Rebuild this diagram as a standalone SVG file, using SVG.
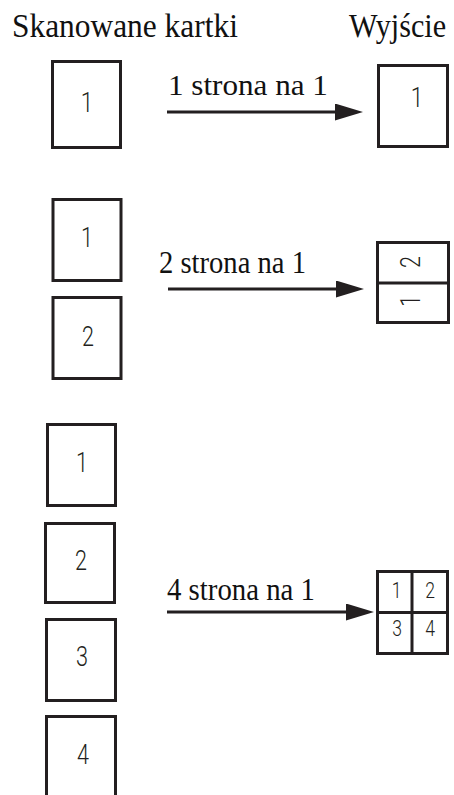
<svg xmlns="http://www.w3.org/2000/svg" width="454" height="795" viewBox="0 0 454 795">
<defs>
<style>
.pg{fill:#fff;stroke:#231f20;stroke-width:3}
.ln{stroke:#231f20;stroke-width:3;fill:none}
.num{font-family:Roboto,"DejaVu Sans",sans-serif;font-weight:300;fill:#231f20;text-anchor:middle}
</style>
<marker id="ah" markerUnits="userSpaceOnUse" markerWidth="30" markerHeight="18" refX="2" refY="8.5" orient="auto">
<path d="M0,0 L28,8.5 L0,17 Z" fill="#231f20"/>
</marker>
</defs>
<rect width="454" height="795" fill="#fff"/>
<g id="headers">
<text font-family="Liberation Serif" fill="#111" font-size="33" transform="translate(12,36.5) scale(0.952,1)">Skanowane kartki</text>
<text font-family="Liberation Serif" fill="#111" font-size="33" transform="translate(349,36.5) scale(0.916,1)">Wyjście</text>
</g>
<g id="in-1-1">
<rect class="pg" x="52.5" y="61.5" width="68" height="86"/>
<text class="num" font-size="28" transform="translate(87,112) scale(0.8,1)">1</text>
</g>
<g id="out-1">
<rect class="pg" x="378.5" y="65.5" width="69" height="81"/>
<text class="num" font-size="28" transform="translate(417,107) scale(0.8,1)">1</text>
</g>
<g id="in-2-1">
<rect class="pg" x="53" y="199.5" width="68" height="81"/>
<text class="num" font-size="27" transform="translate(87,246.5) scale(0.8,1)">1</text>
</g>
<g id="in-2-2">
<rect class="pg" x="53" y="297.5" width="68" height="81"/>
<text class="num" font-size="27" transform="translate(88,345.5) scale(0.8,1)">2</text>
</g>
<g id="out-2">
<rect class="pg" x="377.5" y="242.5" width="71" height="80"/>
<line class="ln" x1="377.5" y1="283" x2="448.5" y2="283"/>
<text class="num" font-size="27" transform="translate(410,262) rotate(-90) scale(0.8,1)" y="9.5">2</text>
<text class="num" font-size="27" transform="translate(410,301) rotate(-90) scale(0.8,1)" y="9.5">1</text>
</g>
<g id="in-4-1">
<rect class="pg" x="47.5" y="424.5" width="68" height="81"/>
<text class="num" font-size="27" transform="translate(82,471.5) scale(0.8,1)">1</text>
</g>
<g id="in-4-2">
<rect class="pg" x="45.5" y="523.5" width="69" height="79"/>
<text class="num" font-size="27" transform="translate(81,570) scale(0.8,1)">2</text>
</g>
<g id="in-4-3">
<rect class="pg" x="46.5" y="619.5" width="69" height="81"/>
<text class="num" font-size="27" transform="translate(82,665.5) scale(0.8,1)">3</text>
</g>
<g id="in-4-4">
<rect class="pg" x="46.5" y="716.5" width="69" height="100"/>
<text class="num" font-size="27" transform="translate(83,764) scale(0.8,1)">4</text>
</g>
<g id="out-4">
<rect class="pg" x="377.5" y="571.5" width="70" height="82"/>
<line class="ln" x1="412" y1="571.5" x2="412" y2="653.5"/>
<line class="ln" x1="377.5" y1="612.5" x2="447.5" y2="612.5"/>
<text class="num" font-size="22" transform="translate(396.5,598) scale(0.8,1)">1</text>
<text class="num" font-size="22" transform="translate(430,598) scale(0.8,1)">2</text>
<text class="num" font-size="22" transform="translate(397,636) scale(0.8,1)">3</text>
<text class="num" font-size="22" transform="translate(430,636) scale(0.8,1)">4</text>
</g>
<g id="connectors">
<line class="ln" x1="167" y1="112" x2="337" y2="112" marker-end="url(#ah)"/>
<text font-family="Liberation Serif" fill="#111" font-size="30" transform="translate(168,95) scale(1.038,1)">1 strona na 1</text>
<line class="ln" x1="168" y1="289" x2="338" y2="289" marker-end="url(#ah)"/>
<text font-family="Liberation Serif" fill="#111" font-size="31" transform="translate(159,273) scale(0.923,1)">2 strona na 1</text>
<line class="ln" x1="167" y1="612" x2="348" y2="612" marker-end="url(#ah)"/>
<text font-family="Liberation Serif" fill="#111" font-size="31" transform="translate(167,600) scale(0.929,1)">4 strona na 1</text>
</g>
</svg>
